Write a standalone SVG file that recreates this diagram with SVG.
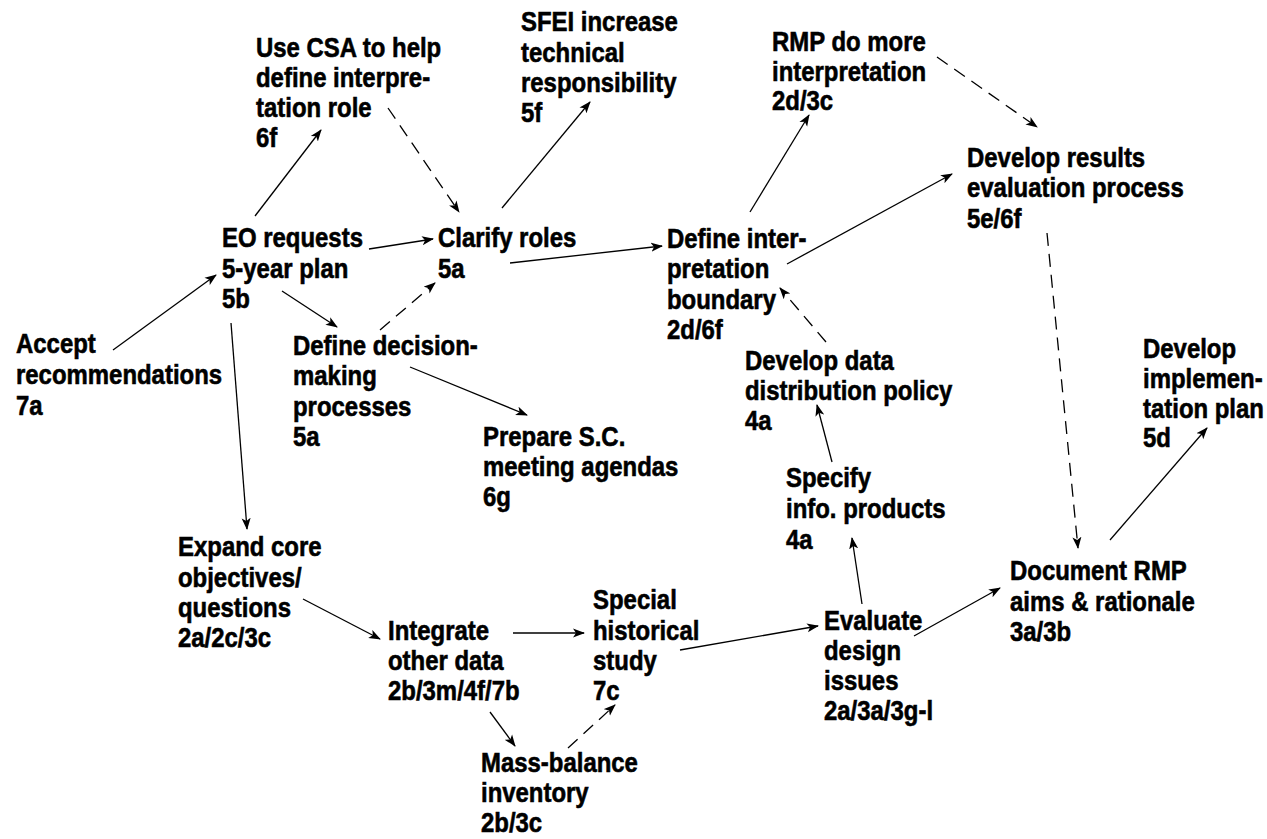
<svg xmlns="http://www.w3.org/2000/svg" width="1267" height="839" viewBox="0 0 1267 839">
<style>
.n text{font-family:"Liberation Sans",Arial,sans-serif;font-weight:bold;font-size:28px;fill:#000;stroke:#000;stroke-width:0.6}
.c line{stroke:#000;stroke-width:1.3;fill:none;marker-end:url(#ah)}
.c line.d{stroke-dasharray:13 8}
</style>
<defs>
<marker id="ah" markerUnits="userSpaceOnUse" markerWidth="13" markerHeight="10" refX="11" refY="5" orient="auto">
<path d="M0,0.5 L12,5 L0,9.5 L3,5 z" fill="#000"/>
</marker>
</defs>
<rect width="1267" height="839" fill="#fff"/>
<g class="c" id="connectors">
<line x1="113" y1="350" x2="216" y2="275"/>
<line x1="255" y1="216" x2="321" y2="130"/>
<line x1="369" y1="249" x2="433" y2="239"/>
<line x1="282" y1="291" x2="337" y2="327"/>
<line x1="231" y1="323" x2="247" y2="529"/>
<line class="d" x1="388" y1="108" x2="459" y2="212"/>
<line class="d" x1="380" y1="330" x2="435" y2="283"/>
<line x1="502" y1="208" x2="590" y2="102"/>
<line x1="510" y1="263" x2="662" y2="246"/>
<line x1="750" y1="212" x2="809" y2="115"/>
<line x1="787" y1="264" x2="952" y2="174"/>
<line class="d" x1="937" y1="57" x2="1037" y2="127"/>
<line class="d" x1="1047" y1="233" x2="1078" y2="548"/>
<line x1="1110" y1="540" x2="1207" y2="428"/>
<line x1="410" y1="367" x2="527" y2="415"/>
<line class="d" x1="826" y1="342" x2="780" y2="288"/>
<line x1="832" y1="462" x2="817" y2="405"/>
<line x1="862" y1="604" x2="852" y2="538"/>
<line x1="914" y1="636" x2="1000" y2="588"/>
<line x1="680" y1="650" x2="818" y2="626"/>
<line x1="513" y1="633" x2="584" y2="633"/>
<line x1="303" y1="599" x2="380" y2="639"/>
<line x1="490" y1="712" x2="515" y2="746"/>
<line class="d" x1="568" y1="748" x2="615" y2="705"/>
</g>
<g class="n" id="use-csa" transform="translate(256,0) scale(0.855,1)"><text><tspan x="0" y="57">Use CSA to help</tspan><tspan x="0" y="87">define interpre-</tspan><tspan x="0" y="117">tation role</tspan><tspan x="0" y="147">6f</tspan></text></g>
<g class="n" id="sfei" transform="translate(521,0) scale(0.855,1)"><text><tspan x="0" y="31">SFEI increase</tspan><tspan x="0" y="62">technical</tspan><tspan x="0" y="92">responsibility</tspan><tspan x="0" y="122">5f</tspan></text></g>
<g class="n" id="rmp-interp" transform="translate(772,0) scale(0.855,1)"><text><tspan x="0" y="51">RMP do more</tspan><tspan x="0" y="81">interpretation</tspan><tspan x="0" y="110">2d/3c</tspan></text></g>
<g class="n" id="dev-results" transform="translate(967,0) scale(0.855,1)"><text><tspan x="0" y="167">Develop results</tspan><tspan x="0" y="197">evaluation process</tspan><tspan x="0" y="228">5e/6f</tspan></text></g>
<g class="n" id="eo-requests" transform="translate(222,0) scale(0.855,1)"><text><tspan x="0" y="247">EO requests</tspan><tspan x="0" y="278">5-year plan</tspan><tspan x="0" y="308">5b</tspan></text></g>
<g class="n" id="clarify" transform="translate(438,0) scale(0.855,1)"><text><tspan x="0" y="247">Clarify roles</tspan><tspan x="0" y="278">5a</tspan></text></g>
<g class="n" id="def-interp" transform="translate(667,0) scale(0.855,1)"><text><tspan x="0" y="248">Define inter-</tspan><tspan x="0" y="278">pretation</tspan><tspan x="0" y="309">boundary</tspan><tspan x="0" y="339">2d/6f</tspan></text></g>
<g class="n" id="accept" transform="translate(16,0) scale(0.855,1)"><text><tspan x="0" y="353">Accept</tspan><tspan x="0" y="384">recommendations</tspan><tspan x="0" y="415">7a</tspan></text></g>
<g class="n" id="def-decision" transform="translate(293,0) scale(0.855,1)"><text><tspan x="0" y="355">Define decision-</tspan><tspan x="0" y="385">making</tspan><tspan x="0" y="416">processes</tspan><tspan x="0" y="446">5a</tspan></text></g>
<g class="n" id="dev-data" transform="translate(745,0) scale(0.855,1)"><text><tspan x="0" y="370">Develop data</tspan><tspan x="0" y="400">distribution policy</tspan><tspan x="0" y="430">4a</tspan></text></g>
<g class="n" id="dev-impl" transform="translate(1143,0) scale(0.855,1)"><text><tspan x="0" y="358">Develop</tspan><tspan x="0" y="388">implemen-</tspan><tspan x="0" y="418">tation plan</tspan><tspan x="0" y="447">5d</tspan></text></g>
<g class="n" id="prepare" transform="translate(483,0) scale(0.855,1)"><text><tspan x="0" y="446">Prepare S.C.</tspan><tspan x="0" y="476">meeting agendas</tspan><tspan x="0" y="506">6g</tspan></text></g>
<g class="n" id="specify" transform="translate(786,0) scale(0.855,1)"><text><tspan x="0" y="487">Specify</tspan><tspan x="0" y="518">info. products</tspan><tspan x="0" y="549">4a</tspan></text></g>
<g class="n" id="expand" transform="translate(178,0) scale(0.855,1)"><text><tspan x="0" y="556">Expand core</tspan><tspan x="0" y="587">objectives/</tspan><tspan x="0" y="617">questions</tspan><tspan x="0" y="647">2a/2c/3c</tspan></text></g>
<g class="n" id="special" transform="translate(593,0) scale(0.855,1)"><text><tspan x="0" y="609">Special</tspan><tspan x="0" y="640">historical</tspan><tspan x="0" y="670">study</tspan><tspan x="0" y="700">7c</tspan></text></g>
<g class="n" id="document" transform="translate(1010,0) scale(0.855,1)"><text><tspan x="0" y="580">Document RMP</tspan><tspan x="0" y="611">aims &amp; rationale</tspan><tspan x="0" y="641">3a/3b</tspan></text></g>
<g class="n" id="integrate" transform="translate(388,0) scale(0.855,1)"><text><tspan x="0" y="640">Integrate</tspan><tspan x="0" y="670">other data</tspan><tspan x="0" y="700">2b/3m/4f/7b</tspan></text></g>
<g class="n" id="evaluate" transform="translate(824,0) scale(0.855,1)"><text><tspan x="0" y="630">Evaluate</tspan><tspan x="0" y="660">design</tspan><tspan x="0" y="690">issues</tspan><tspan x="0" y="720">2a/3a/3g-l</tspan></text></g>
<g class="n" id="mass-balance" transform="translate(481,0) scale(0.855,1)"><text><tspan x="0" y="772">Mass-balance</tspan><tspan x="0" y="802">inventory</tspan><tspan x="0" y="832">2b/3c</tspan></text></g>
</svg>
